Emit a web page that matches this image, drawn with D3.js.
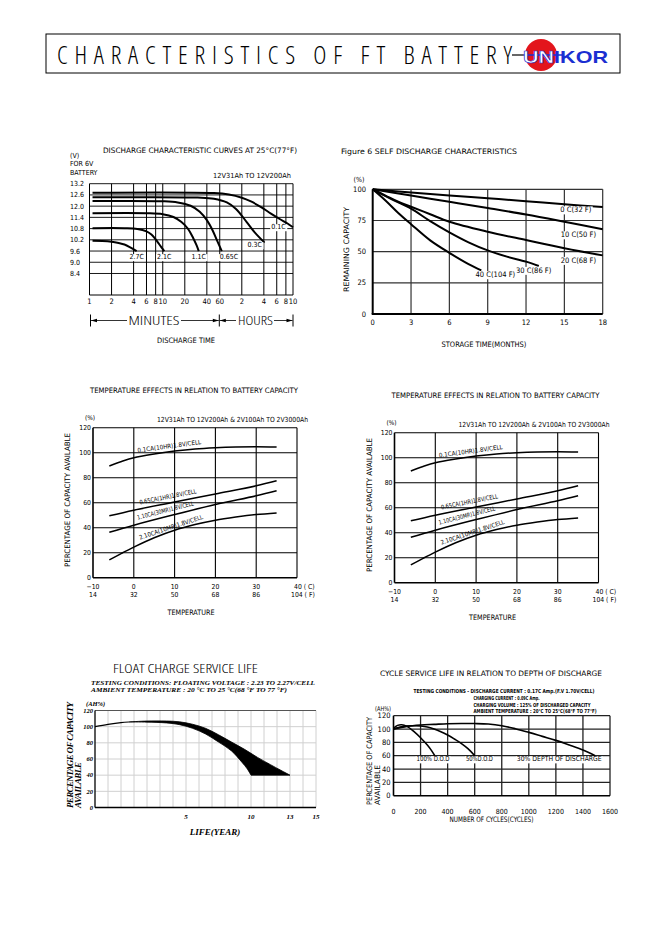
<!DOCTYPE html>
<html><head><meta charset="utf-8">
<script src="https://cdn.jsdelivr.net/npm/d3@7"></script>
<style>html,body{margin:0;padding:0;background:#fff;}</style>
</head><body>
<script>
// ================= DATA =================
const headerTitle = "CHARACTERISTICS OF FT BATTERY";

// --- Discharge characteristic curves (time in minutes, volts) ---
const dischTimeTicks  = [1,2,4,6,8,10,20,40,60,120,240,360,480,600];
const dischTimeLabels = ["1","2","4","6","8","10","20","40","60","2","4","6","8","10"];
const voltTicks = [13.2,12.6,12.0,11.4,10.8,10.2,9.6,9.0,8.4];
const dischRates = ["2.7C","2.1C","1.1C","0.65C","0.3C","0.1C"];
const dis27C  = [[1.1,10.15],[1.5,10.14],[2,10.1],[2.5,10.03],[3,9.95],[3.6,9.8],[4.4,9.6]];
const dis21C  = [[1.1,10.82],[3,10.82],[4.5,10.78],[6,10.65],[7,10.48],[8,10.22],[9,9.95],[10.5,9.6]];
const dis11C  = [[1.1,11.62],[6,11.62],[10,11.57],[14,11.42],[18,11.15],[22,10.8],[26,10.3],[29,9.9],[31,9.6]];
const dis065C = [[1.1,12.27],[10,12.26],[16,12.2],[24,12.02],[32,11.7],[40,11.25],[48,10.7],[56,10.1],[64,9.6]];
const dis03C  = [[1.1,12.47],[30,12.46],[50,12.4],[75,12.2],[100,11.85],[140,11.15],[180,10.6],[245,10.05]];
const dis01C  = [[1.1,12.72],[50,12.7],[80,12.62],[120,12.45],[160,12.25],[220,11.95],[300,11.6],[400,11.3],[500,11.08],[600,10.87]];

// --- Self discharge (months, % remaining) ---
const monthTicks = [0,3,6,9,12,15,18];
const remainTicks = [0,25,50,75,100];
const sdLabels = ["0 C(32 F)","10 C(50 F)","20 C(68 F)","30 C(86 F)","40 C(104 F)"];
const sd0C  = [[0,100],[3,97.5],[6,95],[9,92.8],[12,90.5],[15,88],[18,85.8]];
const sd10C = [[0,100],[3,95],[6,90],[9,85],[12,79.8],[15,74],[18,68]];
const sd20C = [[0,100],[1,95],[2,90],[3,86],[4.5,80],[6,74],[9,66],[12,59.3],[15,52.8],[18,47]];
const sd30C = [[0,100],[1.5,92],[3,84.5],[4.5,74.5],[6,65.5],[7.5,57.5],[9,51],[10.5,46],[12,42],[13,38.5]];
const sd40C = [[0,100],[1,91],[2,81],[3,72],[4.5,59],[6,49],[7.5,40],[8.5,35]];

// --- Temperature effects (deg C, % capacity) ---
const tempTicksC = ["-10","0","10","20","30","40"];
const tempValsC  = [-10,0,10,20,30,40];
const tempTicksF = ["14","32","50","68","86","104"];
const capTicks = [0,20,40,60,80,100,120];
const tempSeriesNames = ["0.1CA(10HR)1.8V/CELL","0.65CA(1HR)1.8V/CELL","1.10CA(30MR)1.8V/CELL","2.10CA(10MR)1.8V/CELL"];
const temp01CA  = [[-6,89.4],[-3,93],[0,96],[5,99],[10,101.3],[15,103],[20,104],[25,104.6],[30,104.8],[35,104.6]];
const temp065CA = [[-6,49.5],[0,54],[10,60.5],[20,67],[30,73.5],[35,77.5]];
const temp110CA = [[-6,36.3],[0,42],[10,50.5],[20,58.5],[30,65.5],[35,69.5]];
const temp210CA = [[-6,14.2],[-3,19.5],[0,24.5],[5,32],[10,38],[15,42.5],[20,46],[25,48.5],[30,50.5],[35,51.8]];

// --- Float charge service life (years, AH%) ---
const floatYearTicks = [5,10,13,15];
const floatCapTicks = [0,20,40,60,80,100,120];
const floatLead  = [[-2,100],[-1,102.8],[0,105],[0.6,105.8]];
const floatUpper = [[0.6,105.8],[2,107],[3.5,107],[4.5,106],[5.5,103],[6.5,98],[7.5,90],[8.5,81],[9.5,72],[10.5,62],[11.5,53],[12.3,46],[13,40]];
const floatLower = [[0.6,105.8],[2,105.6],[3.5,104.6],[4.5,102.5],[5.5,98],[6.5,91],[7.5,81],[8.5,70],[9.3,56],[9.7,48],[10,40]];

// --- Cycle service life (cycles, AH%) ---
const cycleTicks = [0,200,400,600,800,1000,1200,1400,1600];
const cycleCapTicks = [0,20,40,60,80,100,120];
const cycleLabels = ["100% D.O.D","50%D.O.D","30% DEPTH OF DISCHARGE"];
const cyc100 = [[0,101],[30,105.5],[60,106.5],[100,104],[150,96.5],[200,87],[250,76],[280,68],[305,60]];
const cyc50  = [[0,100],[50,103],[100,104.5],[150,105],[200,104.5],[250,103],[300,100],[350,96],[400,91],[450,85],[500,78.5],[550,70.5],[600,60]];
const cyc30  = [[0,100],[100,104],[200,106],[300,107],[400,108],[500,108.3],[600,108.2],[700,107.5],[800,105],[900,100.5],[1000,95],[1100,89],[1200,83],[1300,76],[1400,68.5],[1490,60]];

// ================= DRAWING =================
const svg = d3.select("body").append("svg").attr("width",657).attr("height",930);
const FONT  = "'DejaVu Sans Condensed','DejaVu Sans',sans-serif";
const THIN  = "'Open Sans', 'DejaVu Sans', sans-serif";
const SERIF = "'Liberation Serif','DejaVu Serif',serif";

function T(g,x,y,s,o={}){
  const t=g.append("text").attr("x",x).attr("y",y).text(s)
    .attr("font-size",o.size||7).attr("text-anchor",o.anchor||"start")
    .attr("fill",o.fill||"#000").attr("font-family",o.family||FONT);
  if(o.weight) t.attr("font-weight",o.weight);
  if(o.style) t.attr("font-style",o.style);
  if(o.stretch) t.style("font-stretch",o.stretch);
  if(o.len) t.attr("textLength",o.len).attr("lengthAdjust",o.adjust||"spacingAndGlyphs");
  if(o.rotate!=null) t.attr("transform",`rotate(${o.rotate},${x},${y})`);
  return t;
}
function BT(g,x,y,s,o={}){
  const t=T(g,x,y,s,o); const b=t.node().getBBox();
  g.insert("rect",()=>t.node()).attr("x",b.x-1).attr("y",b.y+1).attr("width",b.width+2).attr("height",b.height-1).attr("fill","#fff");
  return t;
}
function L(g,x1,y1,x2,y2,c,w){return g.append("line").attr("x1",x1).attr("y1",y1).attr("x2",x2).attr("y2",y2).attr("stroke",c||"#000").attr("stroke-width",w||1);}
function interp(arr,x){for(let i=1;i<arr.length;i++){if(x<=arr[i][0]){const a=arr[i-1],b=arr[i];return a[1]+(b[1]-a[1])*(x-a[0])/(b[0]-a[0]);}}return arr[arr.length-1][1];}

// ---------- HEADER ----------
const hd=svg.append("g");
hd.append("rect").attr("x",46).attr("y",34).attr("width",574).attr("height",39).attr("fill","none").attr("stroke","#000").attr("stroke-width",1);
T(hd,57,64,headerTitle,{size:25,family:THIN,weight:300,stretch:"75%",len:455,adjust:"spacing"});
L(hd,512,55,526,55,"#000",1.2);
hd.append("circle").attr("cx",541).attr("cy",55).attr("r",16).attr("fill","#e3151c");
L(hd,526,55,562,55,"#1b2fd1",1.6);
const logo=T(hd,523,62.5,"",{size:17,weight:"bold",family:"'Liberation Sans',Arial,sans-serif",len:85});
logo.append("tspan").attr("fill","#fff").attr("stroke","#1b2fd1").attr("stroke-width",0.6).text("UN");
logo.append("tspan").attr("fill","#1b2fd1").text("IKOR");

// ---------- DISCHARGE CURVES ----------
{
  const g=svg.append("g");
  const x=d3.scaleLog().domain([1,600]).range([89.5,293]);
  const y=d3.scaleLinear().domain([7.25,13.2]).range([295,183.7]);
  T(g,103,152.5,"DISCHARGE CHARACTERISTIC CURVES AT 25°C(77°F)",{size:7.5,len:194});
  T(g,70,157.5,"(V)",{size:7});
  T(g,70,166,"FOR 6V",{size:7});
  T(g,70,174.5,"BATTERY",{size:7});
  T(g,213,177.5,"12V31Ah TO 12V200Ah",{size:7,len:78});
  dischTimeTicks.forEach(t=>L(g,x(t),y(13.2),x(t),295,"#000",1));
  voltTicks.forEach(v=>L(g,x(1),y(v),x(600),y(v),"#000",0.9));
  L(g,x(1),295,x(600),295,"#000",1);
  voltTicks.forEach(v=>T(g,70,y(v)+2.5,v.toFixed(1),{size:7}));
  dischTimeTicks.forEach((t,i)=>T(g,x(t),303.5,dischTimeLabels[i],{size:7.5,anchor:"middle"}));
  const line=d3.line().x(d=>x(d[0])).y(d=>y(d[1])).curve(d3.curveCatmullRom.alpha(0.5));
  [dis27C,dis21C,dis11C,dis065C,dis03C,dis01C].forEach(s=>g.append("path").attr("d",line(s)).attr("fill","none").attr("stroke","#000").attr("stroke-width",2));
  const anch=[[4.4,9.3],[10.5,9.3],[31,9.3],[80,9.3],[180,9.94],[380,10.9]];
  dischRates.forEach((r,i)=>BT(g,x(anch[i][0]),y(anch[i][1])+2.5,r,{size:7,anchor:"middle"}));
  const yy=320.5;
  [90.5,219.3,293].forEach(xx=>L(g,xx,314.5,xx,326.5,"#000",1));
  const arrow=(x1,x2,dir)=>{L(g,x1,yy,x2,yy,"#000",0.8);
    const tip=dir<0?x1:x2; const s=dir<0?1:-1;
    g.append("path").attr("d",`M${tip},${yy} L${tip+6*s},${yy-1.8} L${tip+6*s},${yy+1.8} Z`).attr("fill","#000");};
  arrow(91,127,-1); arrow(181,218.8,1); arrow(219.8,236,-1); arrow(274,292.5,1);
  T(g,154,325,"MINUTES",{size:12,family:THIN,weight:300,stretch:"75%",anchor:"middle",len:51});
  T(g,255.5,325,"HOURS",{size:12,family:THIN,weight:300,stretch:"75%",anchor:"middle",len:35});
  T(g,186,342.5,"DISCHARGE TIME",{size:7.5,anchor:"middle",len:58});
}

// ---------- SELF DISCHARGE ----------
{
  const g=svg.append("g");
  const x=d3.scaleLinear().domain([0,18]).range([372.7,602.7]);
  const y=d3.scaleLinear().domain([0,100]).range([314,189.3]);
  T(g,341,154,"Figure 6  SELF DISCHARGE CHARACTERISTICS",{size:7.5,len:176});
  T(g,359,181.5,"(%)",{size:7,anchor:"middle"});
  monthTicks.slice(1).forEach(m=>L(g,x(m),y(0),x(m),y(100),"#333",1.2));
  remainTicks.slice(1).forEach(v=>L(g,x(0),y(v),x(18),y(v),"#333",1.2));
  L(g,x(0),y(0),x(0),y(100),"#000",2);
  L(g,x(0)-1,y(0),x(18),y(0),"#000",2);
  remainTicks.forEach(v=>T(g,366,y(v)+2.5,String(v),{size:7.5,anchor:"end"}));
  monthTicks.forEach(m=>T(g,x(m),325,String(m),{size:7.5,anchor:"middle"}));
  T(g,349,249.5,"REMAINING CAPACITY",{size:7.5,anchor:"middle",rotate:-90,len:85});
  T(g,484,346.5,"STORAGE TIME(MONTHS)",{size:7.5,anchor:"middle",len:85});
  const line=d3.line().x(d=>x(d[0])).y(d=>y(d[1])).curve(d3.curveCatmullRom.alpha(0.5));
  [sd0C,sd10C,sd20C,sd30C,sd40C].forEach(s=>g.append("path").attr("d",line(s)).attr("fill","none").attr("stroke","#000").attr("stroke-width",2));
  const anch=[[15.9,81.5],[16.1,61.5],[16.1,41],[12.6,33],[9.6,29.5]];
  sdLabels.forEach((s,i)=>BT(g,x(anch[i][0]),y(anch[i][1]),s,{size:7.5,anchor:"middle"}));
}

// ---------- TEMPERATURE EFFECTS (x2) ----------
function drawTemp(ox,oy){
  const g=svg.append("g");
  const x=d3.scaleLinear().domain([-10,40]).range([93+ox,297+ox]);
  const y=d3.scaleLinear().domain([0,120]).range([577.7+oy,427.7+oy]);
  T(g,194+ox,393+oy,"TEMPERATURE EFFECTS IN RELATION TO BATTERY CAPACITY",{size:7.5,anchor:"middle",len:208});
  T(g,90+ox,420+oy,"(%)",{size:6.5,anchor:"middle"});
  T(g,157+ox,421.5+oy,"12V31Ah TO 12V200Ah & 2V100Ah TO 2V3000Ah",{size:7,len:151});
  tempValsC.forEach(t=>L(g,x(t),y(0),x(t),y(120),"#000",t===-10?1.6:1.1));
  capTicks.forEach(v=>L(g,x(-10),y(v),x(40),y(v),"#000",v===0?1.6:1.1));
  capTicks.forEach(v=>T(g,91+ox,y(v)+2.5,String(v),{size:6.8,anchor:"end"}));
  tempValsC.forEach((t,i)=>{
    const last=i===tempValsC.length-1;
    T(g,last?x(t)-3:x(t),588.5+oy,last?tempTicksC[i]+" ( C)":tempTicksC[i].replace("-","\u2212"),{size:6.8,anchor:last?"start":"middle"});
    T(g,last?x(t)-6:x(t),596.5+oy,last?tempTicksF[i]+" ( F)":tempTicksF[i],{size:6.8,anchor:last?"start":"middle"});
  });
  T(g,191+ox,615+oy,"TEMPERATURE",{size:7.5,anchor:"middle",len:47});
  T(g,70+ox,500+oy,"PERCENTAGE OF CAPACITY AVAILABLE",{size:7.5,anchor:"middle",rotate:-90,len:134});
  const line=d3.line().x(d=>x(d[0])).y(d=>y(d[1])).curve(d3.curveCatmullRom.alpha(0.5));
  const series=[temp01CA,temp065CA,temp110CA,temp210CA];
  series.forEach(s=>g.append("path").attr("d",line(s)).attr("fill","none").attr("stroke","#000").attr("stroke-width",1.5));
  const spans=[[1,16.5],[1.5,15.5],[1,15],[1.5,18]];
  const lens=[64,58,58,67];
  series.forEach((s,i)=>{
    const [a,b]=spans[i];
    const x1=x(a),y1=y(interp(s,a)),x2=x(b),y2=y(interp(s,b));
    const ang=Math.atan2(y2-y1,x2-x1)*180/Math.PI;
    T(g,x1,y1-4.5,tempSeriesNames[i],{size:6.2,rotate:ang,len:lens[i]});
  });
}
drawTemp(0,0);
drawTemp(301.5,5);

// ---------- FLOAT CHARGE SERVICE LIFE ----------
{
  const g=svg.append("g");
  const x=d3.scaleLinear().domain([-2,15]).range([95,316]);
  const y=d3.scaleLinear().domain([0,120]).range([807.5,710.5]);
  T(g,185.5,673,"FLOAT CHARGE SERVICE LIFE",{size:13,family:THIN,weight:300,stretch:"75%",anchor:"middle",len:145});
  T(g,91,684.5,"TESTING CONDITIONS: FLOATING VOLTAGE : 2.23 TO 2.27V/CELL",{size:7,family:SERIF,weight:"bold",style:"italic",len:224});
  T(g,91,691.8,"AMBIENT TEMPERATURE : 20 °C TO 25 °C(68 °F TO 77 °F)",{size:7,family:SERIF,weight:"bold",style:"italic",len:196});
  d3.range(-1,16).forEach(t=>L(g,x(t),y(0),x(t),y(120),"#d0d0d0",1));
  floatCapTicks.slice(1,-1).forEach(v=>L(g,x(-2),y(v),x(15),y(v),"#d0d0d0",1));
  L(g,x(-2),y(120),x(15),y(120),"#555",1);
  L(g,x(-2),y(0),x(-2),y(120),"#000",1.3);
  L(g,x(-2),y(0),x(15),y(0),"#000",1.5);
  T(g,86,705.5,"(AH%)",{size:6.5,family:SERIF,weight:"bold",style:"italic"});
  floatCapTicks.forEach(v=>T(g,93,y(v)+2.3,String(v),{size:6.5,family:SERIF,weight:"bold",style:"italic",anchor:"end"}));
  floatYearTicks.forEach(t=>T(g,x(t),819,String(t),{size:7,family:SERIF,weight:"bold",style:"italic",anchor:"middle"}));
  T(g,215,834.5,"LIFE(YEAR)",{size:9,family:SERIF,weight:"bold",style:"italic",anchor:"middle"});
  T(g,73,808,"PERCENTAGE OF CAPACITY",{size:9,family:SERIF,weight:"bold",style:"italic",rotate:-90,len:106,adjust:"spacing"});
  T(g,81,808,"AVAILABLE",{size:9,family:SERIF,weight:"bold",style:"italic",rotate:-90,len:46,adjust:"spacing"});
  const line=d3.line().x(d=>x(d[0])).y(d=>y(d[1])).curve(d3.curveCatmullRom.alpha(0.5));
  g.append("path").attr("d",line(floatLead)).attr("fill","none").attr("stroke","#000").attr("stroke-width",1.2);
  const band=line(floatUpper)+line(floatLower.slice().reverse()).replace(/^M/,"L")+"Z";
  g.append("path").attr("d",band).attr("fill","#000").attr("stroke","#000").attr("stroke-width",0.8);
}

// ---------- CYCLE SERVICE LIFE ----------
{
  const g=svg.append("g");
  const x=d3.scaleLinear().domain([0,1600]).range([393.5,610]);
  const y=d3.scaleLinear().domain([0,120]).range([795.7,715.7]);
  T(g,491,676,"CYCLE SERVICE LIFE IN RELATION TO DEPTH OF DISCHARGE",{size:7.5,anchor:"middle",len:222});
  const sub={size:5.5,weight:"bold"};
  T(g,413.5,692.5,"TESTING CONDITIONS - DISCHARGE CURRENT : 0.17C Amp.(F.V 1.70V/CELL)",{...sub,len:181});
  T(g,473.5,699.5,"CHARGING CURRENT : 0.09C Amp.",{...sub,len:66});
  T(g,473.5,706.5,"CHARGING VOLUME : 125% OF DISCHARGED CAPACITY",{...sub,len:117});
  T(g,473.5,713.3,"AMBIENT TEMPERATURE : 20°C TO 25°C(68°F TO 77°F)",{...sub,len:123});
  T(g,375,710.5,"(AH%)",{size:6.5,len:16});
  cycleTicks.slice(1).forEach(c=>L(g,x(c),y(0),x(c),y(120),"#222",1.3));
  cycleCapTicks.slice(1).forEach(v=>L(g,x(0),y(v),x(1600),y(v),"#222",1.3));
  L(g,x(0),y(0),x(0),y(120),"#000",1.6);
  L(g,x(0),y(0),x(1600),y(0),"#000",1.6);
  cycleCapTicks.forEach(v=>T(g,390.5,y(v)+2.7,String(v),{size:7.5,anchor:"end"}));
  cycleTicks.forEach(c=>T(g,x(c),813.5,String(c),{size:7,anchor:"middle"}));
  T(g,491.5,822,"NUMBER OF CYCLES(CYCLES)",{size:7.5,anchor:"middle",len:84});
  T(g,372,805,"PERCENTAGE OF CAPACITY",{size:7.5,rotate:-90,len:88});
  T(g,379.5,805,"AVAILABLE",{size:7.5,rotate:-90,len:40});
  const line=d3.line().x(d=>x(d[0])).y(d=>y(d[1])).curve(d3.curveCatmullRom.alpha(0.5));
  [cyc100,cyc50,cyc30].forEach(s=>g.append("path").attr("d",line(s)).attr("fill","none").attr("stroke","#000").attr("stroke-width",1.6));
  const anch=[[292,51.5],[635,51.5],[1225,51.5]];
  const lens=[33,27,85];
  cycleLabels.forEach((s,i)=>BT(g,x(anch[i][0]),y(anch[i][1]),s,{size:7,anchor:"middle",len:lens[i]}));
}
</script>
</body></html>
